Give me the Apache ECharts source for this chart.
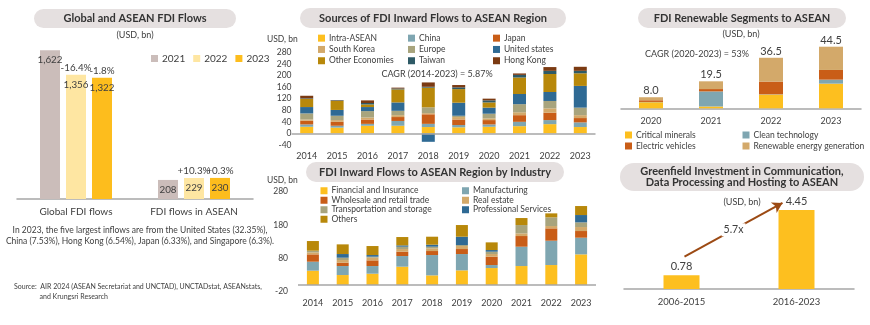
<!DOCTYPE html>
<html>
<head>
<meta charset="utf-8">
<script src="https://cdn.jsdelivr.net/npm/echarts@6/dist/echarts.min.js"></script>
<style>
  html, body { margin: 0; padding: 0; background: #ffffff; }
  #chart { width: 870px; height: 325px; }
</style>
</head>
<body>
<div id="chart"></div>
<script>
// ---------- Global and ASEAN FDI flows (USD bn) ----------
const flowCategories = ['Global FDI flows', 'FDI flows in ASEAN'];
const flowYears = ['2021', '2022', '2023'];
const flows2021 = [1622, 208];
const flows2022 = [1356, 229];
const flows2023 = [1322, 230];
const flowChange2022 = ['-16.4%', '+10.3%'];
const flowChange2023 = ['-1.8%', '+0.3%'];

// ---------- Sources of FDI inward flows to ASEAN (USD bn) ----------
const years = ['2014', '2015', '2016', '2017', '2018', '2019', '2020', '2021', '2022', '2023'];
const sourceNames = ['Intra-ASEAN', 'China', 'Japan', 'South Korea', 'Europe', 'United states', 'Other Economies', 'Taiwan', 'Hong Kong'];
const intraAsean     = [23, 20, 26.5, 26.5, 22, 21, 23, 25, 32, 22];
const china          = [8, 6.5, 6.5, 16.5, 11, 8, 8, 15, 14, 16];
const japan          = [13, 13.5, 15, 13.5, 33, 19, 15, 23, 25.5, 15];
const southKorea     = [4, 6, 7, 6.5, 4, 8.5, 6, 10, 15, 10];
const europe         = [21, 15, 22, 15, 20, 4.5, 16, 28, 25.5, 26];
const unitedStates   = [22, 20, 14, 29, -29, 45, 21, 35, 31, 75];
const otherEconomies = [28, 31, 9, 45, 68, 47, 18, 57, 62, 43.5];
const taiwan         = [2, 2, 5, 3, 3, 6, 7, 9, 11, 8.5];
const hongKong       = [9, 1, 9, 3, 15, 8, 6, 5, 13, 14];
const sourceTicks = { min: -40, max: 280, interval: 40 };

// ---------- FDI inward flows by industry (USD bn) ----------
const industryNames = ['Financial and Insurance', 'Manufacturing', 'Wholesale and retail trade', 'Real estate', 'Transportation and storage', 'Professional Services', 'Others'];
const financial     = [43, 30, 34, 55, 29, 44, 51, 57, 60, 92];
const manufacturing = [27, 27, 23, 32, 61, 49, 9, 58, 73, 50];
const wholesale     = [22, 10, 17, 13, 12, 15, 25, 32, 37, 20];
const realEstate    = [6, 8, 8, 8, 8, 9, 8, 8, 7, 12];
const transport     = [5, 7, 3, 7, 5, 3, 7, 25, 26, 14];
const professional  = [0, 11, 5, 4, 6, 25, 5, 0, 0, 22];
const others        = [29, 29, 27, 25, 24, 35, 23, 21, 12, 27];
const industryTicks = { min: -20, max: 280, interval: 100 };

// ---------- Renewable segments (USD bn) ----------
const renewYears = ['2020', '2021', '2022', '2023'];
const renewNames = ['Critical minerals', 'Clean technology', 'Electric vehicles', 'Renewable energy generation'];
const criticalMinerals = [4.4, 1.3, 9.9, 17.8];
const cleanTech        = [0.2, 10.9, 0.2, 2.9];
const electricVehicles = [1.2, 1.7, 9.2, 7.0];
const renewableGen     = [2.2, 5.6, 17.2, 16.8];

// ---------- Greenfield investment in communication / data hosting (USD bn) ----------
const periods = ['2006-2015', '2016-2023'];
const greenfield = [0.78, 4.45];
const growthMultiple = '5.7x';

// ---------- styling ----------
const FONT = 'Lato, "Noto Sans", sans-serif';
const TXT = '#404040';
const AXIS = '#a6a6a6';
const PILL = '#e5e0e0';
const C = {
  y2021: '#cbbdba', y2022: '#fee6a2', y2023: '#fdbd1d',
  yellow: '#fdbf1f', teal: '#7fa6b1', orange: '#c95d17', tan: '#d3a96a',
  olive: '#a8a47d', blue: '#2f6a94', gold: '#b8880a', slate: '#2e5a66', brown: '#7b3a12'
};
const sourceColors = [C.yellow, C.teal, C.orange, C.tan, C.olive, C.blue, C.gold, C.slate, C.brown];
const sourceData = [intraAsean, china, japan, southKorea, europe, unitedStates, otherEconomies, taiwan, hongKong];
const industryColors = [C.yellow, C.teal, C.orange, C.tan, C.olive, C.blue, C.gold];
const industryData = [financial, manufacturing, wholesale, realEstate, transport, professional, others];
const renewColors = [C.yellow, C.teal, C.orange, C.tan];
const renewData = [criticalMinerals, cleanTech, electricVehicles, renewableGen];
const renewTotals = renewYears.map((_, i) => Math.round(renewData.reduce((s, arr) => s + arr[i], 0) * 10) / 10);

const fmtThousands = v => v.toLocaleString('en-US');

function pill(x, y, w, h, lines, id) {
  return [
    { type: 'rect', id: id + '-bg', shape: { x, y, width: w, height: h, r: h / 2 }, style: { fill: PILL }, silent: true, z: 0 },
    { type: 'text', id: id + '-tx', x: x + w / 2, y: y + h / 2, silent: true, z: 1,
      style: { text: lines, fill: '#333', font: `bold 11px ${FONT}`, align: 'center', verticalAlign: 'middle', lineHeight: 11.5 } }
  ];
}
function note(id, x, y, text, size, align) {
  return { type: 'text', id, x, y, silent: true,
    style: { text, fill: TXT, font: `${size}px ${FONT}`, align: align || 'center', verticalAlign: 'middle' } };
}

function baseline() {
  return { silent: true, symbol: 'none', label: { show: false },
    lineStyle: { color: AXIS, width: 1.5, type: 'solid' }, data: [{ yAxis: 0 }] };
}

function legendCol(id, left, top, names, rowH) {
  return { id, left, top, orient: 'vertical', padding: 0, itemGap: 0, itemWidth: 7, itemHeight: 7,
    icon: 'rect', selectedMode: false, data: names,
    textStyle: { fontFamily: FONT, fontSize: 8.5, color: TXT, lineHeight: rowH, padding: [0, 0, 0, -1] } };
}

const graphics = [
  ...pill(34, 9, 202, 19, 'Global and ASEAN FDI Flows', 'p1'),
  ...pill(300, 8, 266, 20, 'Sources of FDI Inward Flows to ASEAN Region', 'p2'),
  ...pill(306, 162, 258, 20, 'FDI Inward Flows to ASEAN Region by Industry', 'p3'),
  ...pill(638, 8, 208, 20, 'FDI Renewable Segments to ASEAN', 'p4'),
  ...pill(620, 163, 244, 28, 'Greenfield Investment in Communication,\nData Processing and Hosting to ASEAN', 'p5'),
  note('u1', 135, 35, '(USD, bn)', 9),
  note('u2', 267, 39, 'USD, bn', 8.5, 'left'),
  note('u3', 267, 180, 'USD, bn', 8.5, 'left'),
  note('u4', 741, 34, '(USD, bn)', 9),
  note('u5', 742, 202, '(USD, bn)', 9),
  note('cagr1', 437, 74, 'CAGR (2014-2023) = 5.87%', 9),
  note('cagr2', 697, 54, 'CAGR (2020-2023) = 53%', 9),
  note('n1', 140, 230, 'In 2023, the five largest inflows are from the United States (32.35%),', 8.5),
  note('n2', 140, 241, 'China (7.53%), Hong Kong (6.54%), Japan (6.33%), and Singapore (6.3%).', 8.5),
  note('s1', 14, 287, 'Source:  AIR 2024 (ASEAN Secretariat and UNCTAD), UNCTADstat, ASEANstats,', 7, 'left'),
  note('s2', 39.5, 297, 'and Krungsri Research', 7, 'left')
];

const catAxisLabel = { fontFamily: FONT, fontSize: 9, color: TXT };

const option = {
  animation: false,
  textStyle: { fontFamily: FONT },
  grid: [
    { left: 17, top: 34, width: 236, height: 165 },
    { left: 291.5, top: 52.3, width: 304, height: 92.7 },
    { left: 298, top: 191.7, width: 298, height: 100 },
    { left: 621, top: 39.1, width: 240, height: 69.2 },
    { left: 624, top: 200.25, width: 230, height: 88.75 }
  ],
  xAxis: [
    { type: 'category', gridIndex: 0, data: flowCategories, axisTick: { show: false },
      axisLine: { lineStyle: { color: AXIS, width: 1.5 } },
      axisLabel: { margin: 8, fontFamily: FONT, fontSize: 10, color: TXT } },
    { type: 'category', gridIndex: 1, data: years, axisTick: { show: false },
      axisLine: { show: false, onZero: false }, axisLabel: Object.assign({ margin: 7 }, catAxisLabel) },
    { type: 'category', gridIndex: 2, data: years, axisTick: { show: false },
      axisLine: { show: false, onZero: false }, axisLabel: Object.assign({ margin: 7 }, catAxisLabel) },
    { type: 'category', gridIndex: 3, data: renewYears, axisTick: { show: false },
      axisLine: { lineStyle: { color: AXIS, width: 1.5 } }, axisLabel: Object.assign({ margin: 8 }, catAxisLabel) },
    { type: 'category', gridIndex: 4, data: periods, axisTick: { show: false },
      axisLine: { lineStyle: { color: AXIS, width: 1.5 } }, axisLabel: Object.assign({ margin: 8 }, catAxisLabel, { fontSize: 9.5 }) }
  ],
  yAxis: [
    { type: 'value', gridIndex: 0, min: 0, max: 1800, show: false },
    { type: 'value', gridIndex: 1, min: sourceTicks.min, max: sourceTicks.max, interval: sourceTicks.interval,
      splitLine: { show: false }, axisLine: { show: false }, axisTick: { show: false },
      axisLabel: { margin: 0, fontFamily: FONT, fontSize: 8.5, color: TXT } },
    { type: 'value', gridIndex: 2, min: industryTicks.min, max: industryTicks.max, interval: industryTicks.interval,
      splitLine: { show: false }, axisLine: { show: false }, axisTick: { show: false },
      axisLabel: { margin: 10, fontFamily: FONT, fontSize: 8.5, color: TXT } },
    { type: 'value', gridIndex: 3, min: 0, max: 50, show: false },
    { type: 'value', gridIndex: 4, min: 0, max: 5, show: false }
  ],
  legend: [
    { id: 'lg1', left: 151, top: 53.5, padding: 0, itemGap: 8, itemWidth: 7, itemHeight: 7, icon: 'rect',
      selectedMode: false, data: flowYears, textStyle: { fontFamily: FONT, fontSize: 10, color: TXT, padding: [0, 0, 0, -1] } },
    legendCol('lg2a', 318, 32.5, [sourceNames[0], sourceNames[3], sourceNames[6]], 11.3),
    legendCol('lg2b', 408, 32.5, [sourceNames[1], sourceNames[4], sourceNames[7]], 11.3),
    legendCol('lg2c', 493, 32.5, [sourceNames[2], sourceNames[5], sourceNames[8]], 11.3),
    legendCol('lg3a', 320.5, 186, [industryNames[0], industryNames[2], industryNames[4], industryNames[6]], 9.5),
    legendCol('lg3b', 462, 186, [industryNames[1], industryNames[3], industryNames[5]], 9.5),
    legendCol('lg4a', 625, 129.5, [renewNames[0], renewNames[2]], 11),
    legendCol('lg4b', 742.5, 129.5, [renewNames[1], renewNames[3]], 11)
  ],
  series: [],
  graphic: graphics
};

// Global / ASEAN flows: grouped bars with value and change labels
const valueInside = { show: true, position: 'insideTop', distance: 5, fontFamily: FONT, fontSize: 9.8, color: TXT, lineHeight: 10 };
option.series.push({
  type: 'bar', name: flowYears[0], xAxisIndex: 0, yAxisIndex: 0, barWidth: 20, barGap: '30%',
  itemStyle: { color: C.y2021 }, data: flows2021,
  label: Object.assign({ formatter: p => fmtThousands(p.value) }, valueInside)
});
[[flows2022, flowChange2022, C.y2022, flowYears[1]], [flows2023, flowChange2023, C.y2023, flowYears[2]]].forEach(([vals, chg, col, nm]) => {
  option.series.push({
    type: 'bar', name: nm, xAxisIndex: 0, yAxisIndex: 0, barWidth: 20, barGap: '30%',
    itemStyle: { color: col }, data: vals,
    label: { show: true, position: 'insideTop', distance: 5, offset: [0, -20.5], lineHeight: 17,
      fontFamily: FONT, fontSize: 9.8, color: TXT,
      formatter: p => chg[p.dataIndex] + '\n' + fmtThousands(p.value) }
  });
});

// Sources: stacked bars with a zero baseline
sourceNames.forEach((nm, i) => {
  const s = { type: 'bar', name: nm, stack: 'sources', xAxisIndex: 1, yAxisIndex: 1, barWidth: 13,
    itemStyle: { color: sourceColors[i] }, data: sourceData[i] };
  if (i === 0) s.markLine = baseline();
  option.series.push(s);
});

// Industry: stacked bars with a zero baseline
industryNames.forEach((nm, i) => {
  const s = { type: 'bar', name: nm, stack: 'industry', xAxisIndex: 2, yAxisIndex: 2, barWidth: 12,
    itemStyle: { color: industryColors[i] }, data: industryData[i] };
  if (i === 0) s.markLine = baseline();
  option.series.push(s);
});

// Renewable segments: stacked bars with totals on top
renewNames.forEach((nm, i) => {
  const s = { type: 'bar', name: nm, stack: 'renew', xAxisIndex: 3, yAxisIndex: 3, barWidth: 24,
    itemStyle: { color: renewColors[i] }, data: renewData[i] };
  if (i === renewNames.length - 1) {
    s.label = { show: true, position: 'top', distance: 1, fontFamily: FONT, fontSize: 11, color: TXT,
      formatter: p => renewTotals[p.dataIndex].toFixed(1) };
  }
  option.series.push(s);
});

// Greenfield investment bars
option.series.push({
  id: 'greenfield', type: 'bar', name: 'Greenfield', xAxisIndex: 4, yAxisIndex: 4, barWidth: 36,
  itemStyle: { color: C.yellow }, data: greenfield,
  label: { show: true, position: 'top', distance: 3, fontFamily: FONT, fontSize: 11, color: TXT,
    formatter: p => p.value.toFixed(2) }
});

const chart = echarts.init(document.getElementById('chart'));
chart.setOption(option);

// Growth arrow between the two greenfield bars, placed through the axis scales
const start = chart.convertToPixel({ gridIndex: 4 }, [0, 1.82]);
const end = chart.convertToPixel({ gridIndex: 4 }, [1, 4.85]);
start[0] += 3;
end[0] -= 14;
const gf = option.series[option.series.length - 1];
gf.markLine = {
  silent: true, symbol: ['none', 'arrow'], symbolSize: [9, 10], label: { show: false },
  lineStyle: { color: '#9c4a14', width: 2, type: 'solid' },
  data: [[{ x: start[0], y: start[1] }, { x: end[0], y: end[1] }]]
};
option.graphic = graphics.concat([{
  type: 'text', id: 'mult', x: (start[0] + end[0]) / 2, y: (start[1] + end[1]) / 2, z: 10, silent: true,
  style: { text: growthMultiple, fill: TXT, font: `10.5px ${FONT}`, align: 'center', verticalAlign: 'middle',
    backgroundColor: '#fff', padding: [1, 2] }
}]);
chart.setOption(option, true);
</script>
</body>
</html>
